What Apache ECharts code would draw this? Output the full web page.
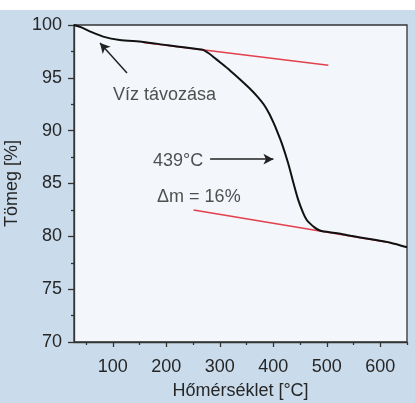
<!DOCTYPE html>
<html>
<head>
<meta charset="utf-8">
<script src="https://cdn.jsdelivr.net/npm/echarts@6/dist/echarts.min.js"></script>
<style>
  html, body { margin: 0; padding: 0; background: #ffffff; }
  #chart {
    width: 415px; height: 403px;
    background: linear-gradient(to bottom, #ffffff 0px, #ffffff 10px, #cadcec 10px, #cadcec 100%);
  }
</style>
</head>
<body>
<div id="chart"></div>
<script>
// Thermogravimetric curve: temperature (°C) vs. remaining mass (%)
const temperature = [27.5, 40, 57, 82, 113, 157, 200, 240, 268, 280, 290, 301, 319, 338, 357, 370, 382, 392, 400, 408, 416, 428, 438, 447, 456, 462, 469, 477, 485, 495, 520, 545, 580, 619, 650];
const mass = [100, 99.8, 99.4, 98.9, 98.58, 98.4, 98.1, 97.85, 97.65, 97.3, 96.9, 96.45, 95.7, 94.85, 93.95, 93.25, 92.5, 91.65, 90.8, 89.85, 88.8, 86.9, 85.0, 83.4, 82.2, 81.6, 81.2, 80.85, 80.6, 80.45, 80.3, 80.05, 79.75, 79.4, 78.97];

// Tangent lines before and after the decomposition step
const tangentUpperT = [157, 503];
const tangentUpperM = [98.35, 96.2];
const tangentLowerT = [251, 619];
const tangentLowerM = [82.5, 79.4];

// Axis ticks
const xMajorTicks = [100, 200, 300, 400, 500, 600];
const xMinorTicks = [50, 150, 250, 350, 450, 550, 650];

// Annotation texts and arrows (data coordinates)
const noteTexts = ['Víz távozása', '439°C', 'Δm = 16%'];
const noteT = [100.5, 175.3, 182.8];
const noteM = [93.4, 87.1, 83.75];
const waterArrow = [[126.6, 95.46], [76.1, 98.3]];
const peakArrow = [[281.9, 87.3], [400.3, 87.3]];

const font = '"Liberation Sans", Arial, sans-serif';
const textColor = '#262626';
const axisColor = '#333333';
const fontSize = 18;

const chart = echarts.init(document.getElementById('chart'), null, { renderer: 'canvas' });

const zip = (a, b) => a.map((v, i) => [v, b[i]]);

chart.setOption({
  backgroundColor: 'transparent',
  animation: false,
  grid: {
    left: 74, right: 8, top: 25, bottom: 61,
    containLabel: false,
    outerBoundsMode: 'none',
    show: true,
    backgroundColor: '#f3f6fa',
    borderColor: axisColor,
    borderWidth: 1.3
  },
  xAxis: [
    {
      type: 'value', min: 27.5, max: 650, position: 'bottom',
      name: 'Hőmérséklet [°C]', nameLocation: 'middle', nameGap: 40,
      nameTextStyle: { fontFamily: font, fontSize: fontSize, color: textColor },
      axisLine: { lineStyle: { color: axisColor, width: 1.3 } },
      axisTick: { show: true, length: 5, customValues: xMajorTicks, lineStyle: { color: axisColor, width: 1.3 } },
      axisLabel: { customValues: xMajorTicks, margin: 16, fontFamily: font, fontSize: fontSize, color: textColor },
      splitLine: { show: false }
    },
    {
      type: 'value', min: 27.5, max: 650, position: 'bottom',
      axisLine: { show: false },
      axisTick: { show: true, length: 3, customValues: xMinorTicks, lineStyle: { color: axisColor, width: 1.3 } },
      axisLabel: { show: false },
      splitLine: { show: false }
    }
  ],
  yAxis: {
    type: 'value', min: 70, max: 100, interval: 5,
    name: 'Tömeg [%]', nameLocation: 'middle', nameGap: 41,
    nameTextStyle: { fontFamily: font, fontSize: fontSize, color: textColor },
    axisLine: { show: true, lineStyle: { color: axisColor, width: 1.3 } },
    axisTick: { show: true, length: 6, lineStyle: { color: axisColor, width: 1.3 } },
    minorTick: { show: true, splitNumber: 2, length: 3, lineStyle: { color: axisColor, width: 1.3 } },
    axisLabel: { margin: 12, fontFamily: font, fontSize: fontSize, color: textColor },
    splitLine: { show: false }
  },
  series: [
    {
      name: 'tangent-upper', type: 'line', data: zip(tangentUpperT, tangentUpperM),
      symbol: 'none', lineStyle: { color: '#e2404c', width: 1.5 }, z: 2
    },
    {
      name: 'tangent-lower', type: 'line', data: zip(tangentLowerT, tangentLowerM),
      symbol: 'none', lineStyle: { color: '#e2404c', width: 1.5 }, z: 2
    },
    {
      name: 'TG', type: 'line', data: zip(temperature, mass),
      symbol: 'none', smooth: 0.25,
      lineStyle: { color: '#111111', width: 2 }, z: 3,
      markLine: {
        silent: true,
        symbol: ['none', 'arrow'], symbolSize: [8, 10],
        label: { show: false },
        lineStyle: { color: '#222222', width: 1.5, type: 'solid' },
        data: [
          [{ coord: waterArrow[0] }, { coord: waterArrow[1] }],
          [{ coord: peakArrow[0] }, { coord: peakArrow[1] }]
        ]
      }
    },
    {
      name: 'notes', type: 'scatter', symbolSize: 0,
      data: noteTexts.map((t, i) => ({ value: [noteT[i], noteM[i]], name: t })),
      label: {
        show: true, position: 'right', distance: 0,
        formatter: p => p.name,
        fontFamily: font, fontSize: fontSize, color: textColor
      },
      z: 4
    }
  ]
});
</script>
</body>
</html>
